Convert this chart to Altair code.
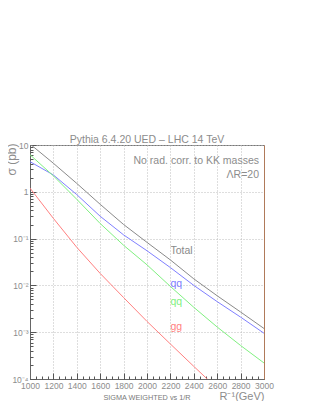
import altair as alt
import pandas as pd

# ---- data ----
mass = [1000, 1200, 1400, 1600, 1800, 2000, 2200, 2400, 2600, 2800, 3000]
total = [10.5, 4.07, 1.51, 0.54, 0.20, 0.083, 0.035, 0.0138, 0.0060, 0.0027, 0.0012]
qq = [4.4, 2.29, 0.87, 0.30, 0.12, 0.055, 0.024, 0.0100, 0.0045, 0.0021, 0.00095]
qg = [6.2, 2.19, 0.69, 0.21, 0.072, 0.0275, 0.0095, 0.0034, 0.00129, 0.00052, 0.00022]
gg_mass = [1000, 1200, 1400, 1600, 1800, 2000, 2200, 2400, 2600]
gg = [1.2, 0.27, 0.065, 0.018, 0.0055, 0.0017, 0.00056, 0.000186, 0.000063]

series_names = ["Total", "qq", "qg", "gg"]
series_colors = ["#8a8a8a", "#8080ff", "#80f080", "#ff8080"]

label_text = ["Total", "qq", "qq", "gg"]
label_series = ["Total", "qq", "qg", "gg"]
label_x = [2200, 2200, 2200, 2200]
label_y = [0.055, 0.0108, 0.0045, 0.0013]

x_major = [1000, 1200, 1400, 1600, 1800, 2000, 2200, 2400, 2600, 2800, 3000]
x_minor = list(range(1000, 3001, 50))
y_major = [1e-4, 1e-3, 1e-2, 1e-1, 1, 10]
y_minor = [m * 10.0 ** e for e in range(-4, 1) for m in range(2, 10)]

rows = []
for name, xs, ys in [("Total", mass, total), ("qq", mass, qq), ("qg", mass, qg), ("gg", gg_mass, gg)]:
    for a, b in zip(xs, ys):
        rows.append({"series": name, "mass": a, "sigma": b})
df = pd.DataFrame(rows)
lab = pd.DataFrame({"text": label_text, "series": label_series, "mass": label_x, "sigma": label_y})

FONT = "Liberation Sans"
GREY = "#8c8c8c"
W, H = 234, 234

xscale = alt.Scale(domain=[1000, 3000], nice=False, zero=False)
yscale = alt.Scale(type="log", domain=[1e-4, 10], nice=False)
cscale = alt.Scale(domain=series_names, range=series_colors)

ylabel_expr = ("datum.value >= 9 ? '10\u2007' : datum.value >= 0.9 ? '1\u2007' : "
               "datum.value >= 0.09 ? '10\u207b\u00b9' : datum.value >= 0.009 ? '10\u207b\u00b2' : "
               "datum.value >= 0.0009 ? '10\u207b\u00b3' : '10\u207b\u2074'")

lines = alt.Chart(df).mark_line(strokeWidth=1, clip=True).encode(
    x=alt.X("mass:Q", scale=xscale, axis=alt.Axis(
        values=x_major, format="d", tickSize=0, labelPadding=2, labelFontSize=8.5,
        labelColor=GREY, labelFont=FONT, grid=True, gridDash=[1, 2], gridColor="#bdbdbd",
        domainColor="#666666", labelFlush=False, labelOverlap=False,
        title="R\u207b\u00b9(GeV)", titleFont=FONT, titleFontSize=11, titleFontWeight="normal",
        titleColor=GREY, titleX=W, titleY=20, titleAlign="right", titleBaseline="alphabetic")),
    y=alt.Y("sigma:Q", scale=yscale, axis=alt.Axis(
        values=y_major, labelExpr=ylabel_expr, tickSize=0, labelPadding=2, labelFontSize=8.5,
        labelColor=GREY, labelFont=FONT, grid=True, gridDash=[1, 2], gridColor="#bdbdbd",
        domainColor="#666666", labelFlush=False, labelOverlap=False,
        title="\u03c3 (pb)", titleFont=FONT, titleFontSize=12, titleFontWeight="normal",
        titleColor=GREY, titleX=-19, titleY=-2, titleAlign="right", titleBaseline="middle",
        titleAngle=270)),
    color=alt.Color("series:N", scale=cscale, legend=None),
    detail="series:N",
)

def tick_layer(xv, yv, size):
    return alt.Chart(df).mark_line(opacity=0).encode(
        x=alt.X("mass:Q", scale=xscale, axis=alt.Axis(
            orient="top", offset=-H, values=xv, tickSize=size, tickColor="#555555",
            labels=False, domain=False, grid=False, title=None)),
        y=alt.Y("sigma:Q", scale=yscale, axis=alt.Axis(
            orient="right", offset=-W, values=yv, tickSize=size, tickColor="#555555",
            labels=False, domain=False, grid=False, title=None)),
        detail="series:N",
    )

minor = tick_layer(x_minor, y_minor, 3)
major = tick_layer(x_major, y_major, 6)

right_edge = alt.Chart(df).mark_line(opacity=0).encode(
    x=alt.X("mass:Q", scale=xscale, axis=None),
    y=alt.Y("sigma:Q", scale=yscale, axis=alt.Axis(
        orient="right", offset=0, values=[], ticks=False, labels=False, domain=True,
        domainColor="#b07a5a", grid=False, title=None)),
    detail="series:N",
)

labels = alt.Chart(lab).mark_text(align="left", baseline="middle", font=FONT, fontSize=10.5).encode(
    x=alt.X("mass:Q", scale=xscale, axis=None),
    y=alt.Y("sigma:Q", scale=yscale, axis=None),
    text="text:N",
    color=alt.Color("series:N", scale=cscale, legend=None),
)

notes = pd.DataFrame({"t": ["No rad. corr. to KK masses", "\u039bR=20"], "row": [0, 1]})
note1 = alt.Chart(notes[notes.row == 0]).mark_text(
    align="right", baseline="middle", font=FONT, fontSize=10.5, color=GREY
).encode(text="t:N", x=alt.value(229), y=alt.value(16))
note2 = alt.Chart(notes[notes.row == 1]).mark_text(
    align="right", baseline="middle", font=FONT, fontSize=10.5, color=GREY
).encode(text="t:N", x=alt.value(229), y=alt.value(30))

footer = alt.Chart(pd.DataFrame({"t": ["SIGMA WEIGHTED vs 1/R"]})).mark_text(
    align="center", baseline="middle", font=FONT, fontSize=7.3, color="#7a7a7a"
).encode(text="t:N", x=alt.value(117), y=alt.value(253))

chart = alt.layer(lines, minor, major, right_edge, labels, note1, note2, footer).resolve_axis(
    x="independent", y="independent"
).properties(
    width=W, height=H,
    title=alt.TitleParams("Pythia 6.4.20 UED \u2013 LHC 14 TeV", font=FONT, fontSize=10.5,
                          fontWeight="normal", color=GREY, anchor="middle", baseline="alphabetic",
                          offset=-12),
    autosize=alt.AutoSizeParams(type="none"),
    padding={"left": 22, "top": 137, "right": 44, "bottom": 22},
).configure_view(stroke="#777777", strokeWidth=1)

chart.save("out.html", embed_options={"renderer": "svg", "actions": False})
